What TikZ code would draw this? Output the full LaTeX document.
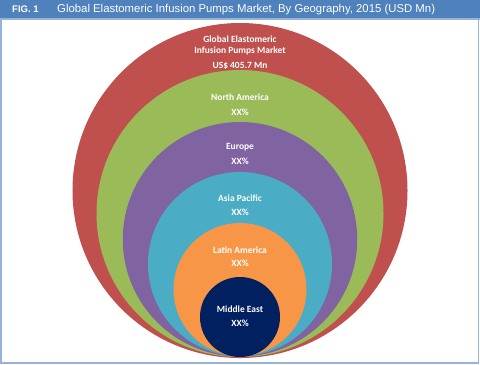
\documentclass[tikz,border=0pt]{standalone}
\usepackage{fontspec}
\setmainfont{Carlito}
\newfontfamily\arialf{Liberation Sans}
\definecolor{cred}{HTML}{C0504D}
\definecolor{cgreen}{HTML}{9BBB59}
\definecolor{cpurple}{HTML}{8064A2}
\definecolor{ccyan}{HTML}{4BACC6}
\definecolor{corange}{HTML}{F79646}
\definecolor{cnavy}{HTML}{002060}
\definecolor{chead}{HTML}{4F81BD}
\definecolor{cborder}{HTML}{95B3D7}
\tikzset{
  ring/.style={circle, inner sep=0pt, minimum size=#1, draw=none},
  lbl/.style={text=white, font=\bfseries\fontsize{9.5}{11.5}\selectfont, align=center, inner sep=0pt},
}
\begin{document}
\begin{tikzpicture}[x=1bp,y=-1bp]
\useasboundingbox (0,0) rectangle (480,364);
\fill[white] (0,0) rectangle (480,364);
\draw[cborder, line width=1.5bp] (0.75,0.75) rectangle (478.5,363);
\fill[chead] (0,0) rectangle (480,18);
\fill[chead!60] (0,18) rectangle (480,20);
\node[anchor=west, text=white, font=\arialf\bfseries\fontsize{9.6}{11}\selectfont, inner sep=0pt] (fig) at (12,9.5) {FIG. 1};
\node[anchor=west, text=white, font=\arialf\fontsize{11.4}{13}\selectfont, inner sep=0pt] (title) at (57,9.5) {Global Elastomeric Infusion Pumps Market, By Geography, 2015 (USD Mn)};
\node[ring=335bp, fill=cred] (c1) at (240,190.5) {};
\node[ring=287bp, fill=cgreen] (c2) at (240,213.5) {};
\node[ring=234.5bp, fill=cpurple] (c3) at (240,239.25) {};
\node[ring=184bp, fill=ccyan] (c4) at (240,264) {};
\node[ring=133bp, fill=corange] (c5) at (240,289.5) {};
\node[ring=80bp, fill=cnavy] (c6) at (240,317) {};
\node[lbl] (t1) at (240,45.5) {Global Elastomeric\\Infusion Pumps Market};
\node[lbl] (v1) at (240,66) {US\$ 405.7 Mn};
\node[lbl] (t2) at (240,97) {North America};
\node[lbl] (v2) at (240,112) {XX\%};
\node[lbl] (t3) at (240,147) {Europe};
\node[lbl] (v3) at (240,161) {XX\%};
\node[lbl] (t4) at (240,198) {Asia Pacific};
\node[lbl] (v4) at (240,212) {XX\%};
\node[lbl] (t5) at (240,250) {Latin America};
\node[lbl] (v5) at (240,263.5) {XX\%};
\node[lbl] (t6) at (240,309) {Middle East};
\node[lbl] (v6) at (240,323) {XX\%};
\end{tikzpicture}
\end{document}
